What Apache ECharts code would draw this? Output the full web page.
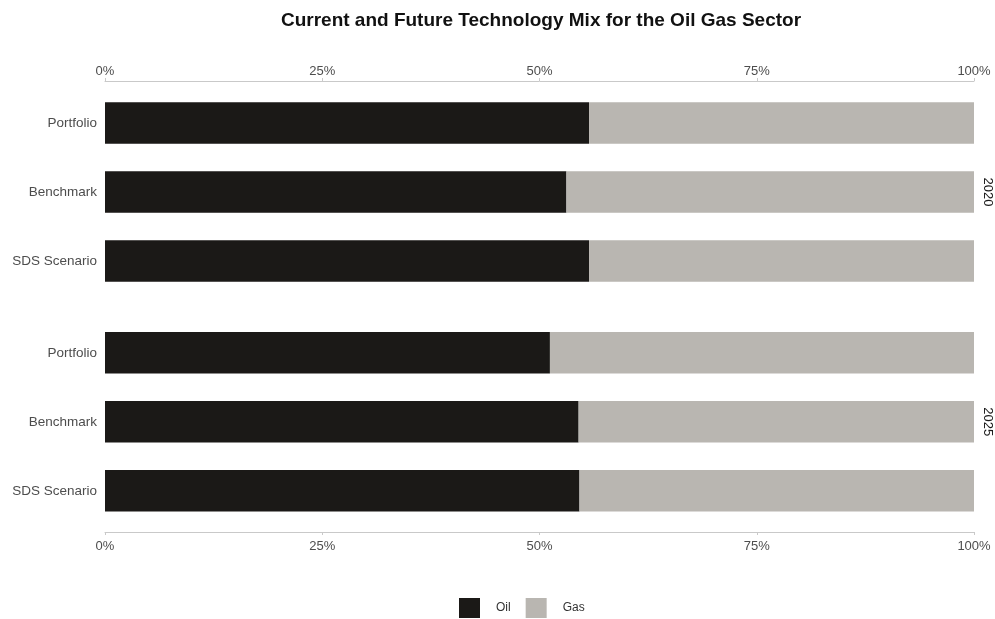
<!DOCTYPE html>
<html>
<head>
<meta charset="utf-8">
<script src="https://cdn.jsdelivr.net/npm/echarts@6/dist/echarts.min.js"></script>
<style>
  html, body { margin: 0; padding: 0; background: #fff; overflow: hidden; }
  #chart { width: 995px; height: 619px; }
</style>
</head>
<body>
<div id="chart"></div>
<script>
// Oil vs gas production share by scenario, two horizons
const years = ['2020', '2025'];
const categories = ['Portfolio', 'Benchmark', 'SDS Scenario'];
const oil2020 = [0.557, 0.531, 0.557];
const gas2020 = [0.443, 0.469, 0.443];
const oil2025 = [0.512, 0.545, 0.546];
const gas2025 = [0.488, 0.455, 0.454];

const OIL = '#1b1917';
const GAS = '#b9b6b1';
const FONT = '"Liberation Sans", Arial, sans-serif';

const chart = echarts.init(document.getElementById('chart'), null, { renderer: 'canvas', width: 995, height: 619 });

const pct = v => Math.round(v * 100) + '%';

function xAxisFor(gridIndex, position, offset, margin) {
  return {
    type: 'value', gridIndex, position, offset,
    min: 0, max: 1, interval: 0.25,
    axisLine: { show: true, lineStyle: { color: '#c9c9c9', width: 1 } },
    axisTick: { show: true, length: 3, lineStyle: { color: '#c9c9c9' } },
    axisLabel: { show: true, color: '#4d4d4d', fontSize: 13, fontFamily: FONT, margin, formatter: pct },
    splitLine: { show: false }
  };
}
function yAxisFor(gridIndex) {
  return {
    type: 'category', gridIndex, data: categories, inverse: true,
    axisLine: { show: false }, axisTick: { show: false },
    axisLabel: { color: '#4d4d4d', fontSize: 13.5, fontFamily: FONT, margin: 8 }
  };
}
function stripAxis(gridIndex, name) {
  return {
    type: 'category', gridIndex, data: categories, inverse: true, position: 'right',
    name, nameLocation: 'middle', nameRotate: -90, nameGap: 7,
    nameTextStyle: { color: '#1a1a1a', fontSize: 13, fontFamily: FONT },
    axisLine: { show: false }, axisTick: { show: false }, axisLabel: { show: false }
  };
}
function barSeries(name, data, color, idx) {
  return {
    name, type: 'bar', stack: 'mix' + idx, data,
    xAxisIndex: idx, yAxisIndex: idx * 2,
    barWidth: '60%',
    itemStyle: { color },
    emphasis: { disabled: true },
    animation: false
  };
}

chart.setOption({
  animation: false,
  title: {
    text: 'Current and Future Technology Mix for the Oil Gas Sector',
    left: 536, textAlign: 'center', top: 6,
    textStyle: { fontSize: 19, fontWeight: 'bold', color: '#111', fontFamily: FONT }
  },
  legend: {
    data: ['Oil', 'Gas'],
    top: 593, left: 454,
    itemWidth: 21, itemHeight: 20, itemGap: 15,
    icon: 'rect',
    textStyle: { fontSize: 12, color: '#333', fontFamily: FONT, padding: [0, 0, 0, 11] }
  },
  grid: [
    { left: 105, width: 869, top: 88.5, height: 207, outerBoundsMode: 'none' },
    { left: 105, width: 869, top: 318.3, height: 207, outerBoundsMode: 'none' }
  ],
  xAxis: [
    xAxisFor(0, 'top', 7.5, 3),
    xAxisFor(1, 'bottom', 6.7, 8)
  ],
  yAxis: [
    yAxisFor(0), stripAxis(0, years[0]),
    yAxisFor(1), stripAxis(1, years[1])
  ],
  series: [
    barSeries('Oil', oil2020, OIL, 0),
    barSeries('Gas', gas2020, GAS, 0),
    barSeries('Oil', oil2025, OIL, 1),
    barSeries('Gas', gas2025, GAS, 1)
  ]
});
</script>
</body>
</html>
